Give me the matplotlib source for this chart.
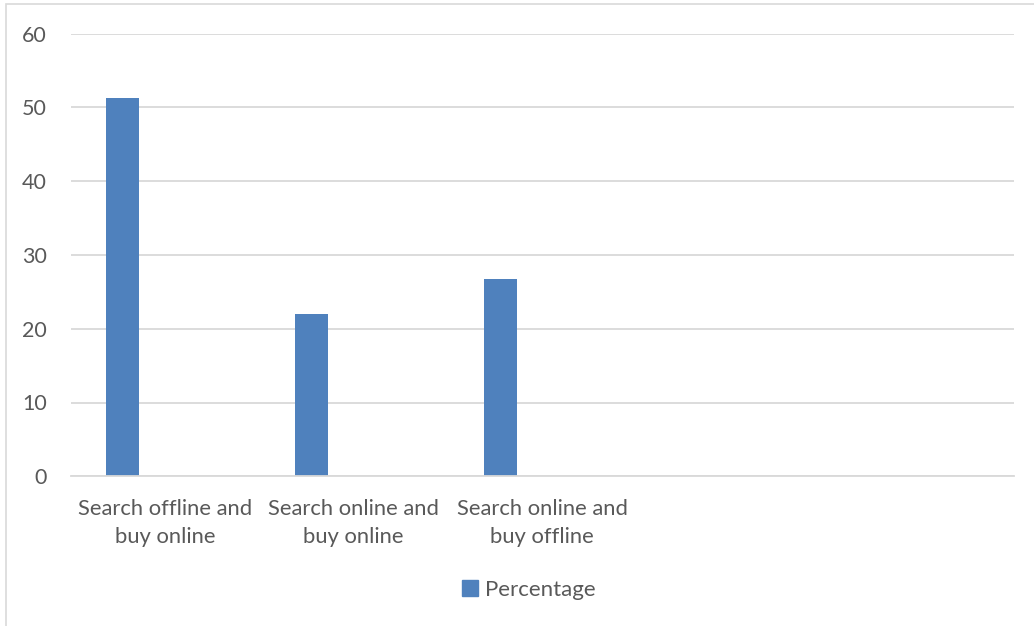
import matplotlib.pyplot as plt
from matplotlib.patches import Rectangle, Patch

categories = ["Search offline and\nbuy online",
              "Search online and\nbuy online",
              "Search online and\nbuy offline"]
percentage = [51.3, 22.0, 26.7]
y_ticks = [0, 10, 20, 30, 40, 50, 60]
n_slots = 5  # category slots on the axis (last two are empty)

BAR = "#4f81bd"
GRID = "#d9d9d9"
TEXT = "#595959"
FONT = "Lato"

W, H = 1034, 626
fig = plt.figure(figsize=(W / 100, H / 100), dpi=100)

# outer chart border
fig.add_artist(Rectangle((5.5 / W, -0.1), 1.2, (H - 4.5) / H + 0.1,
                         transform=fig.transFigure, fill=False,
                         edgecolor=GRID, linewidth=1.2))

left, right, top, bottom = 70.7, 1014, 33.5, 476.3
ax = fig.add_axes([left / W, (H - bottom) / H, (right - left) / W, (bottom - top) / H])

x = list(range(len(categories)))
offset = -0.223
ax.bar([i + offset for i in x], percentage, width=0.175, color=BAR, zorder=3,
       label="Percentage")

ax.set_xlim(-0.5, n_slots - 0.5)
ax.set_ylim(0, 60)
ax.set_yticks(y_ticks)
ax.set_yticklabels([str(v) for v in y_ticks], fontsize=15.5, color=TEXT, family=FONT)
ax.set_xticks(x)
ax.set_xticklabels(categories, fontsize=15.8, color=TEXT, family=FONT,
                   linespacing=1.5)
ax.tick_params(axis="both", length=0)
ax.tick_params(axis="y", pad=17)
ax.tick_params(axis="x", pad=16)
ax.grid(axis="y", color=GRID, linewidth=1.3, zorder=0)
for s in ["left", "right", "top"]:
    ax.spines[s].set_visible(False)
ax.spines["bottom"].set_color(GRID)
ax.spines["bottom"].set_linewidth(1.3)
ax.spines["bottom"].set_zorder(4)

handles = [Patch(facecolor=BAR, edgecolor=BAR, label="Percentage")]
fig.legend(handles=handles, loc="center", bbox_to_anchor=(529 / W, (H - 590) / H),
           frameon=False, prop={"family": FONT, "size": 16}, labelcolor=TEXT,
           handlelength=0.7, handleheight=0.7, handletextpad=0.35)

fig.savefig("out.png", dpi=100, facecolor="white")
